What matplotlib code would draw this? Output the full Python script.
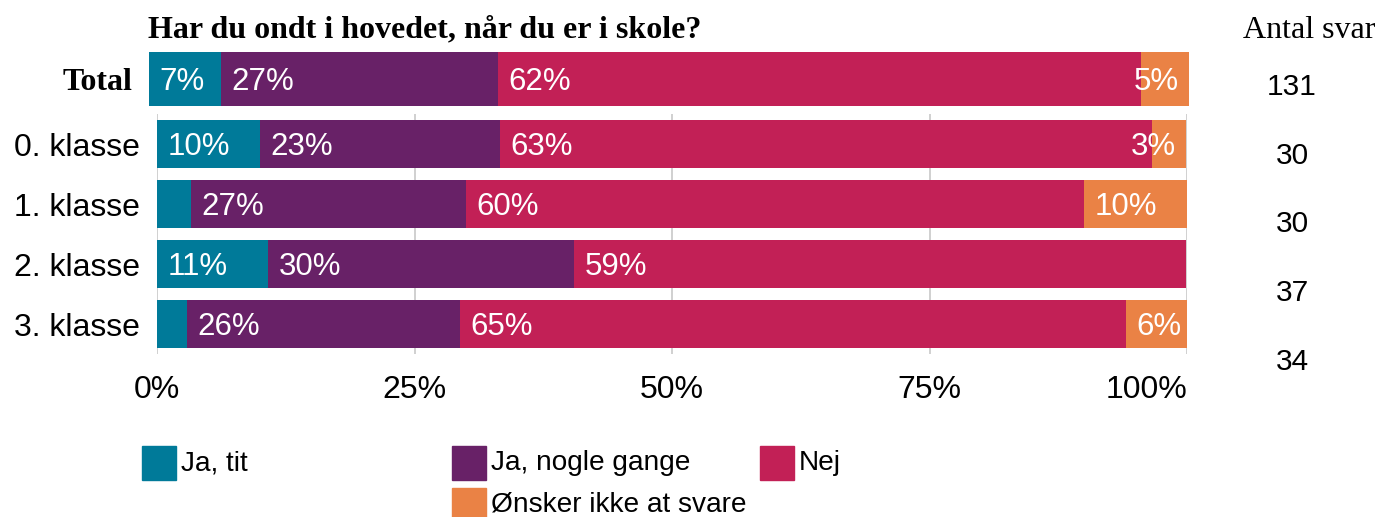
import matplotlib
matplotlib.use("Agg")
import matplotlib.pyplot as plt
from matplotlib.patches import Rectangle

# data (percent of answers)
categories = ['0. klasse', '1. klasse', '2. klasse', '3. klasse']
series_names = ['Ja, tit', 'Ja, nogle gange', 'Nej', 'Ønsker ikke at svare']
ja_tit = [10.0, 3.3, 10.8, 2.9]
ja_nogle_gange = [23.3, 26.7, 29.7, 26.5]
nej = [63.3, 60.0, 59.4, 64.7]
oensker_ikke = [3.3, 10.0, 0.0, 5.9]
total = [6.9, 26.7, 61.8, 4.6]
n_total = 131
n_klasse = [30, 30, 37, 34]
tick_vals = [0, 25, 50, 75, 100]
tick_labels = ['0%', '25%', '50%', '75%', '100%']

colors = ['#007A99', '#682167', '#C22056', '#EA8245']
title = 'Har du ondt i hovedet, når du er i skole?'

W, H = 1379, 517
SANS = 'Liberation Sans'
SERIF = 'Liberation Serif'


def fy(py):
    return 1 - py / H


def pct_label(ax, start, val, y, last):
    if val <= 0 or (val < 4 and not last):
        return
    txt = f'{round(val)}%'
    if last and val < 5.5:
        ax.annotate(txt, xy=(start + val, y), xytext=(-7, -2.5), textcoords='offset points',
                    ha='right', va='center', color='white', fontsize=22.5, family=SANS)
    else:
        ax.annotate(txt, xy=(start, y), xytext=(7.5, -2.5), textcoords='offset points',
                    ha='left', va='center', color='white', fontsize=22.5, family=SANS)


fig = plt.figure(figsize=(W / 100, H / 100), dpi=100)

# Total bar on its own axes (slightly wider than the class bars)
ax_t = fig.add_axes([149 / W, fy(106), 1040 / W, 54 / H])
left = 0
for i, v in enumerate(total):
    ax_t.barh(0, v, left=left, height=1.0, color=colors[i])
    pct_label(ax_t, left, v, 0, i == len(total) - 1)
    left += v
ax_t.set_xlim(0, 100)
ax_t.set_ylim(-0.5, 0.5)
ax_t.set_xticks([])
ax_t.set_yticks([0])
ax_t.set_yticklabels(['Total'], family=SERIF, fontweight='bold', fontsize=23)
ax_t.tick_params(length=0, pad=12)
for s in ax_t.spines.values():
    s.set_visible(False)

# class bars
ax = fig.add_axes([157 / W, fy(354), 1030 / W, 240 / H])
series = [ja_tit, ja_nogle_gange, nej, oensker_ikke]
lefts = [0.0] * len(categories)
for i, vals in enumerate(series):
    ax.barh(range(len(categories)), vals, left=lefts, height=0.8, color=colors[i])
    for j, v in enumerate(vals):
        pct_label(ax, lefts[j], v, j, i == len(series) - 1)
    lefts = [a + b for a, b in zip(lefts, vals)]

ax.set_xlim(0, 100)
ax.set_ylim(len(categories) - 0.5, -0.5)
ax.set_yticks(range(len(categories)))
ax.set_yticklabels(categories, family=SANS, fontsize=23)
ax.set_xticks(tick_vals)
ax.set_xticklabels(tick_labels, family=SANS, fontsize=23)
ax.get_xticklabels()[-1].set_ha('right')
ax.tick_params(length=0)
ax.tick_params(axis='y', pad=12)
ax.tick_params(axis='x', pad=15)
ax.grid(axis='x', color='#c8c8c8', lw=1.2)
ax.set_axisbelow(True)
for s in ax.spines.values():
    s.set_visible(False)

# titles
fig.text(148 / W, fy(30), title, family=SERIF, fontweight='bold', fontsize=23,
         ha='left', va='center')
fig.text(1243 / W, fy(30), 'Antal svar', family=SERIF, fontsize=23, ha='left', va='center')

# number of answers column
all_n = [n_total] + n_klasse
for i, n in enumerate(all_n):
    fig.text(1292 / W, fy(87 + i * 68.75), str(n), family=SANS, fontsize=21.5,
             ha='center', va='center')

# legend drawn by hand (3 + 1 layout)
legend_pos = [(142, 446), (452, 446), (760, 446), (452, 488)]
for (x, y), name, c in zip(legend_pos, series_names, colors):
    fig.add_artist(Rectangle((x / W, fy(y + 34)), 34 / W, 34 / H,
                             transform=fig.transFigure, color=c))
    fig.text((x + 39) / W, fy(y + 17), name, family=SANS, fontsize=20.2,
             ha='left', va='center')

fig.savefig('out.png', dpi=100)
